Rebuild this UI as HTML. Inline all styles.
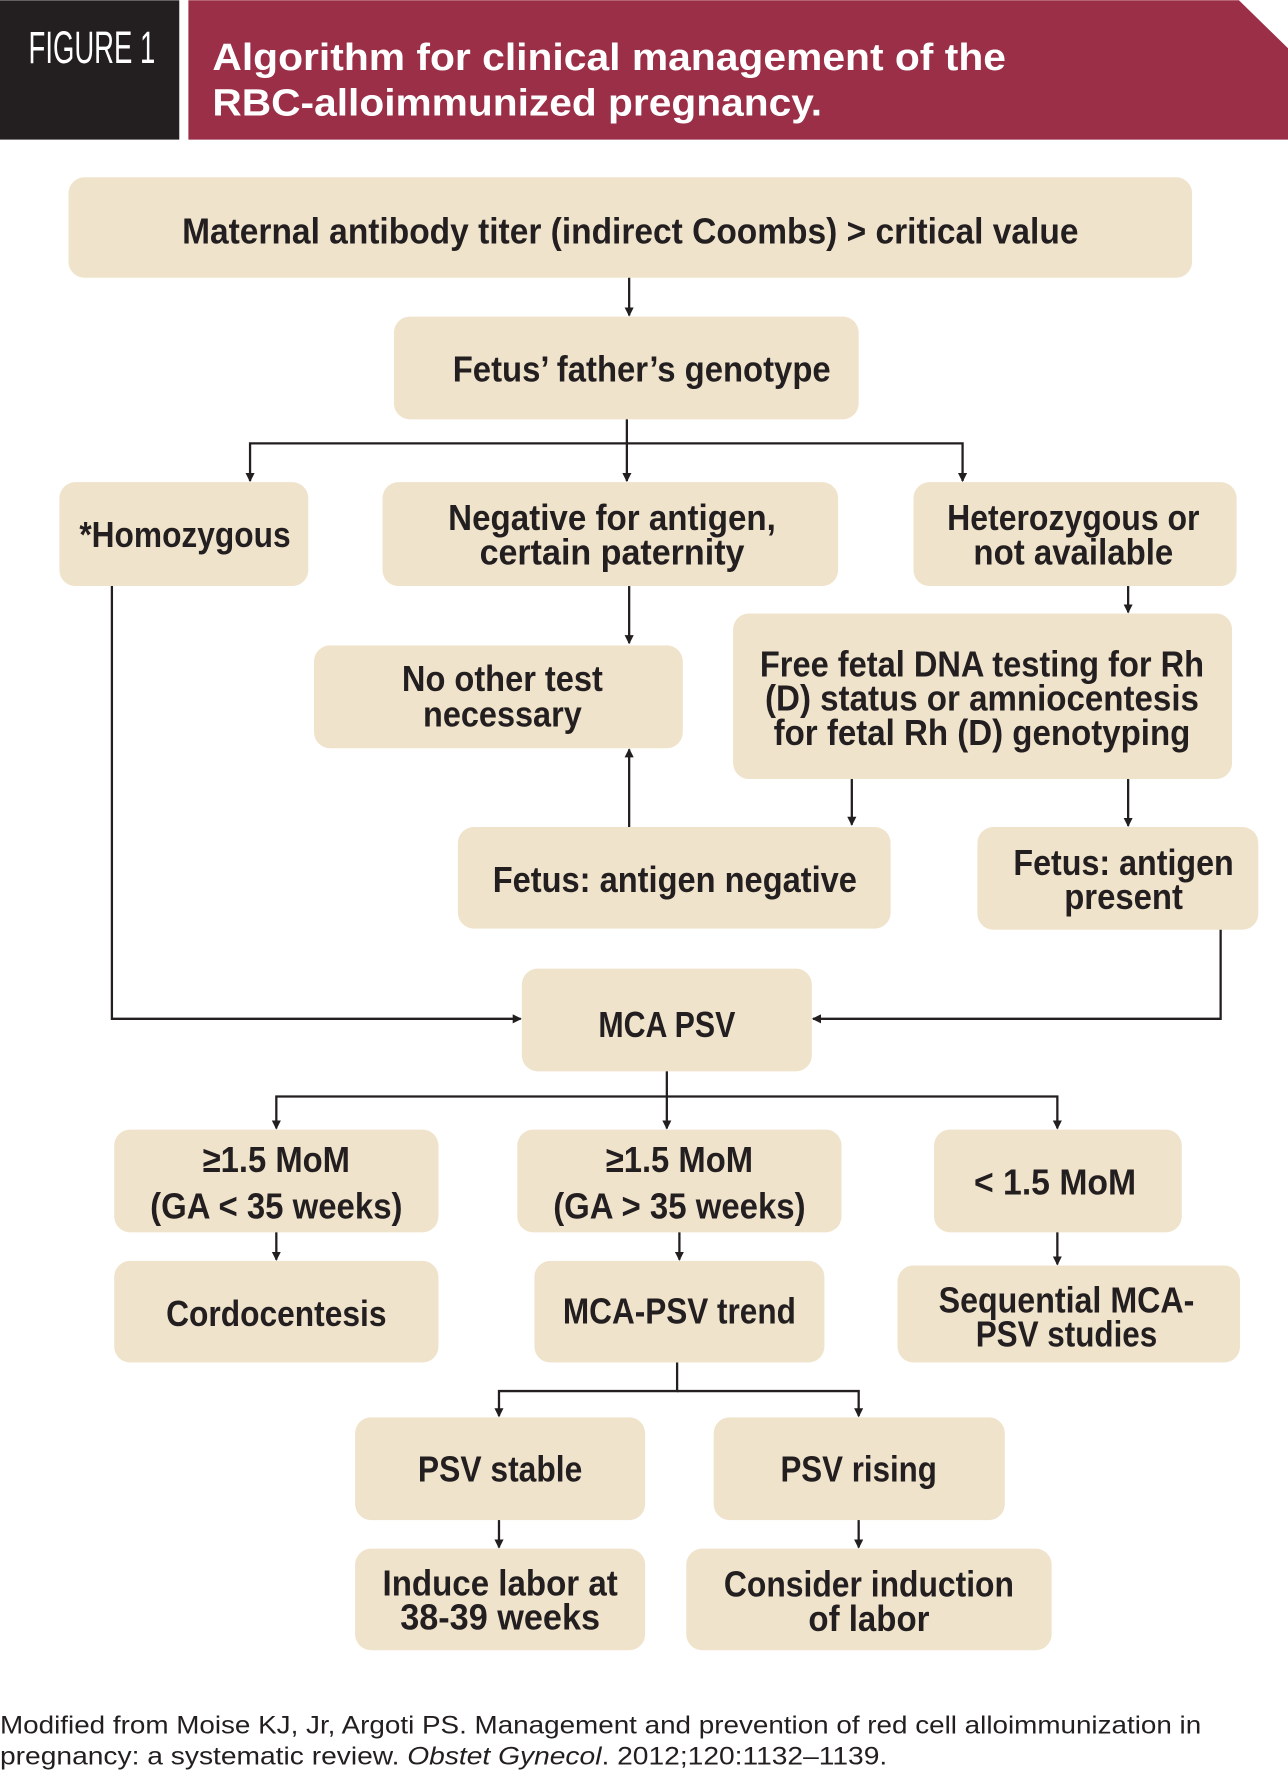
<!DOCTYPE html>
<html><head><meta charset="utf-8"><style>html,body{margin:0;padding:0;background:#fff}svg{display:block}</style></head>
<body>
<svg width="1288" height="1791" viewBox="0 0 1128 1568" xmlns="http://www.w3.org/2000/svg">
<defs><marker id="a" markerWidth="8" markerHeight="8" refX="7" refY="4" orient="auto" markerUnits="userSpaceOnUse"><path d="M0,0 L8,4 L0,8 z" fill="#231f20"/></marker></defs>
<rect x="0" y="0" width="157" height="122" fill="#231f20"/>
<path d="M165,0 H1085 L1128,42 V122 H165 z" fill="#9b2f47"/>
<g font-family="Liberation Sans Narrow, Liberation Sans, sans-serif" fill="#fff">
<text x="25" y="55" font-size="40" textLength="111" lengthAdjust="spacingAndGlyphs">FIGURE 1</text>
</g>
<g font-family="Liberation Sans, sans-serif" font-weight="bold" fill="#fff" font-size="33">
<text x="186" y="61" textLength="695" lengthAdjust="spacingAndGlyphs">Algorithm for clinical management of the</text>
<text x="186" y="101" textLength="534" lengthAdjust="spacingAndGlyphs">RBC-alloimmunized pregnancy.</text>
</g>
<g fill="#f0e3cb">
<rect x="60" y="155" width="984" height="88" rx="14"/>
<rect x="345" y="277" width="407" height="90" rx="14"/>
<rect x="52" y="422" width="218" height="91" rx="14"/>
<rect x="335" y="422" width="399" height="91" rx="14"/>
<rect x="800" y="422" width="283" height="91" rx="14"/>
<rect x="275" y="565" width="323" height="90" rx="14"/>
<rect x="642" y="537" width="437" height="145" rx="14"/>
<rect x="401" y="724" width="379" height="89" rx="14"/>
<rect x="856" y="724" width="246" height="90" rx="14"/>
<rect x="457" y="848" width="254" height="90" rx="14"/>
<rect x="100" y="989" width="284" height="90" rx="14"/>
<rect x="453" y="989" width="284" height="90" rx="14"/>
<rect x="818" y="989" width="217" height="90" rx="14"/>
<rect x="100" y="1104" width="284" height="89" rx="14"/>
<rect x="468" y="1104" width="254" height="89" rx="14"/>
<rect x="786" y="1108" width="300" height="85" rx="14"/>
<rect x="311" y="1241" width="254" height="90" rx="14"/>
<rect x="625" y="1241" width="255" height="90" rx="14"/>
<rect x="311" y="1356" width="254" height="89" rx="14"/>
<rect x="601" y="1356" width="320" height="89" rx="14"/>
</g>
<g font-family="Liberation Sans Narrow, Liberation Sans, sans-serif" font-weight="bold" fill="#231f20" font-size="32" text-anchor="middle">
<text x="552" y="213" textLength="785" lengthAdjust="spacingAndGlyphs">Maternal antibody titer (indirect Coombs) &gt; critical value</text>
<text x="562" y="334" textLength="331" lengthAdjust="spacingAndGlyphs">Fetus’ father’s genotype</text>
<text x="162" y="479" textLength="185" lengthAdjust="spacingAndGlyphs">*Homozygous</text>
<text x="536" y="464" textLength="287" lengthAdjust="spacingAndGlyphs">Negative for antigen,</text>
<text x="536" y="494" textLength="232" lengthAdjust="spacingAndGlyphs">certain paternity</text>
<text x="940" y="464" textLength="221" lengthAdjust="spacingAndGlyphs">Heterozygous or</text>
<text x="940" y="494" textLength="175" lengthAdjust="spacingAndGlyphs">not available</text>
<text x="440" y="605" textLength="176" lengthAdjust="spacingAndGlyphs">No other test</text>
<text x="440" y="636" textLength="139" lengthAdjust="spacingAndGlyphs">necessary</text>
<text x="860" y="592" textLength="389" lengthAdjust="spacingAndGlyphs">Free fetal DNA testing for Rh</text>
<text x="860" y="622" textLength="380" lengthAdjust="spacingAndGlyphs">(D) status or amniocentesis</text>
<text x="860" y="652" textLength="365" lengthAdjust="spacingAndGlyphs">for fetal Rh (D) genotyping</text>
<text x="591" y="781" textLength="319" lengthAdjust="spacingAndGlyphs">Fetus: antigen negative</text>
<text x="984" y="766" textLength="193" lengthAdjust="spacingAndGlyphs">Fetus: antigen</text>
<text x="984" y="796" textLength="104" lengthAdjust="spacingAndGlyphs">present</text>
<text x="584" y="908" textLength="120" lengthAdjust="spacingAndGlyphs">MCA PSV</text>
<text x="242" y="1026" textLength="129" lengthAdjust="spacingAndGlyphs">≥1.5 MoM</text>
<text x="242" y="1067" textLength="221" lengthAdjust="spacingAndGlyphs">(GA &lt; 35 weeks)</text>
<text x="595" y="1026" textLength="129" lengthAdjust="spacingAndGlyphs">≥1.5 MoM</text>
<text x="595" y="1067" textLength="221" lengthAdjust="spacingAndGlyphs">(GA &gt; 35 weeks)</text>
<text x="924" y="1046" textLength="142" lengthAdjust="spacingAndGlyphs">&lt; 1.5 MoM</text>
<text x="242" y="1161" textLength="193" lengthAdjust="spacingAndGlyphs">Cordocentesis</text>
<text x="595" y="1159" textLength="204" lengthAdjust="spacingAndGlyphs">MCA-PSV trend</text>
<text x="934" y="1149" textLength="224" lengthAdjust="spacingAndGlyphs">Sequential MCA-</text>
<text x="934" y="1179" textLength="159" lengthAdjust="spacingAndGlyphs">PSV studies</text>
<text x="438" y="1297" textLength="144" lengthAdjust="spacingAndGlyphs">PSV stable</text>
<text x="752" y="1297" textLength="137" lengthAdjust="spacingAndGlyphs">PSV rising</text>
<text x="438" y="1397" textLength="206" lengthAdjust="spacingAndGlyphs">Induce labor at</text>
<text x="438" y="1427" textLength="175" lengthAdjust="spacingAndGlyphs">38-39 weeks</text>
<text x="761" y="1398" textLength="254" lengthAdjust="spacingAndGlyphs">Consider induction</text>
<text x="761" y="1428" textLength="106" lengthAdjust="spacingAndGlyphs">of labor</text>
</g>
<g stroke="#231f20" stroke-width="2" fill="none" marker-end="url(#a)">
<path d="M551,243 V276"/>
<path d="M549,367 V421"/>
<path d="M549,388 H219 V421"/>
<path d="M549,388 H843 V421"/>
<path d="M551,513 V563"/>
<path d="M988,513 V536"/>
<path d="M746,682 V722"/>
<path d="M988,682 V723"/>
<path d="M551,724 V656"/>
<path d="M98,513 V892 H456"/>
<path d="M1069,814 V892 H712"/>
<path d="M584,938 V988"/>
<path d="M584,960 H242 V988"/>
<path d="M584,960 H926 V988"/>
<path d="M242,1079 V1103"/>
<path d="M595,1079 V1103"/>
<path d="M926,1079 V1107"/>
<path d="M593,1193 V1218 H437 V1240"/>
<path d="M593,1218 H752 V1240"/>
<path d="M437,1331 V1355"/>
<path d="M752,1331 V1355"/>
</g>
<g font-family="Liberation Sans, sans-serif" fill="#231f20" font-size="22">
<text x="0" y="1518" textLength="1052" lengthAdjust="spacingAndGlyphs">Modified from Moise KJ, Jr, Argoti PS. Management and prevention of red cell alloimmunization in</text>
<text x="0" y="1545" textLength="777" lengthAdjust="spacingAndGlyphs">pregnancy: a systematic review. <tspan font-style="italic">Obstet Gynecol</tspan>. 2012;120:1132–1139.</text>
</g>
</svg>
</body></html>
